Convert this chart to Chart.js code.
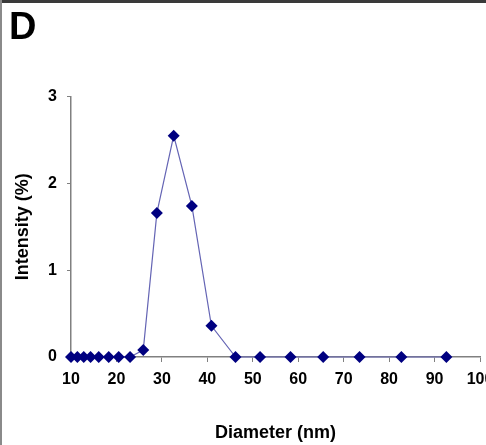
<!DOCTYPE html>
<html>
<head>
<meta charset="utf-8">
<script src="https://cdn.jsdelivr.net/npm/chart.js@4.4.0/dist/chart.umd.min.js"></script>
<style>
  html, body { margin: 0; padding: 0; background: #ffffff; }
  #wrap { position: relative; width: 486px; height: 445px; overflow: hidden; }
  #grafico { position: absolute; left: 0; top: 0; }
  #borda-topo { position: absolute; left: 0; top: 0; width: 486px; height: 3px; background: #3a3a3a; }
  #borda-esq { position: absolute; left: 0; top: 0; width: 2px; height: 445px; background: #8a8a8a; }
</style>
</head>
<body>
<div id="wrap">
  <canvas id="grafico" width="486" height="445"></canvas>
  <div id="borda-topo"></div>
  <div id="borda-esq"></div>
</div>
<script>
// diametro (nm) e intensidade (%)
var diametros = [10, 11.4, 12.8, 14.3, 16.1, 18.3, 20.5, 23.0, 25.9, 28.9, 32.6, 36.6, 40.9, 46.2, 51.6, 58.3, 65.5, 73.5, 82.7, 92.6];
var intensidades = [0, 0, 0, 0, 0, 0, 0, 0, 0.08, 1.66, 2.55, 1.74, 0.36, 0, 0, 0, 0, 0, 0, 0];
var ticksX = [10, 20, 30, 40, 50, 60, 70, 80, 90, 100];
var ticksY = [0, 1, 2, 3];

var pontos = diametros.map(function (d, i) {
    return { x: d, y: intensidades[i] };
});

var fonte = "'Liberation Sans', Arial, sans-serif";
var cinza = "#808080";

var referencia = document.querySelector("#grafico").getContext("2d");

var grafico = new Chart(referencia, {
    type: 'scatter',
    data: {
        datasets: [{
            label: "Intensity",
            data: pontos,
            showLine: true,
            clip: false,
            borderColor: "#6464b4",
            borderWidth: 1.2,
            backgroundColor: "#000080",
            pointBackgroundColor: "#000080",
            pointBorderColor: "#000080",
            pointBorderWidth: 0,
            pointStyle: 'rectRot',
            pointRadius: 6,
            tension: 0
        }]
    },
    options: {
        responsive: false,
        animation: false,
        layout: {
            padding: { left: 9, right: 0, top: 2, bottom: 0 }
        },
        plugins: {
            legend: { display: false },
            tooltip: { enabled: false },
            title: {
                display: true,
                text: "D",
                align: 'start',
                color: "#000000",
                font: { family: fonte, size: 38, weight: 'bold' },
                padding: { top: 4, bottom: 45 }
            }
        },
        scales: {
            x: {
                type: 'linear',
                min: ticksX[0],
                max: ticksX[ticksX.length - 1],
                afterFit: function (escala) {
                    escala.height = 88;
                    escala.paddingRight = 0;
                },
                afterBuildTicks: function (escala) {
                    escala.ticks = ticksX.map(function (v) { return { value: v }; });
                },
                grid: {
                    drawOnChartArea: false,
                    drawTicks: true,
                    tickLength: 5,
                    color: cinza
                },
                border: { color: cinza, width: 1.5 },
                ticks: {
                    color: "#000000",
                    padding: 8,
                    maxRotation: 0,
                    font: { family: fonte, size: 16, weight: 'bold' }
                },
                title: {
                    display: true,
                    text: "Diameter (nm)",
                    color: "#000000",
                    font: { family: fonte, size: 18, weight: 'bold' },
                    padding: { top: 0, bottom: 1 }
                }
            },
            y: {
                min: ticksY[0],
                max: ticksY[ticksY.length - 1],
                afterFit: function (escala) {
                    escala.width = 62;
                },
                afterBuildTicks: function (escala) {
                    escala.ticks = ticksY.map(function (v) { return { value: v }; });
                },
                grid: {
                    drawOnChartArea: false,
                    drawTicks: true,
                    tickLength: 4,
                    color: cinza
                },
                border: { color: cinza, width: 1.5 },
                ticks: {
                    color: "#000000",
                    padding: 10,
                    font: { family: fonte, size: 16, weight: 'bold' }
                },
                title: {
                    display: true,
                    text: "Intensity (%)",
                    color: "#000000",
                    font: { family: fonte, size: 18, weight: 'bold' },
                    padding: { top: 3, bottom: 0 }
                }
            }
        }
    }
});
</script>
</body>
</html>
